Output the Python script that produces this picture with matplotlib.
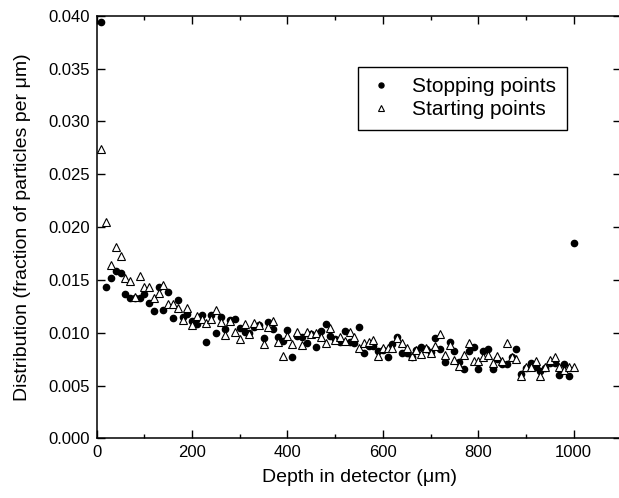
import matplotlib
matplotlib.use('Agg')
import matplotlib.pyplot as plt
from matplotlib.ticker import MultipleLocator, FormatStrFormatter

plt.rcParams['font.family'] = ['Liberation Sans', 'DejaVu Sans']

# depth bins (um)
depth = [10, 20, 30, 40, 50, 60, 70, 80, 90, 100,
         110, 120, 130, 140, 150, 160, 170, 180, 190, 200,
         210, 220, 230, 240, 250, 260, 270, 280, 290, 300,
         310, 320, 330, 340, 350, 360, 370, 380, 390, 400,
         410, 420, 430, 440, 450, 460, 470, 480, 490, 500,
         510, 520, 530, 540, 550, 560, 570, 580, 590, 600,
         610, 620, 630, 640, 650, 660, 670, 680, 690, 700,
         710, 720, 730, 740, 750, 760, 770, 780, 790, 800,
         810, 820, 830, 840, 850, 860, 870, 880, 890, 900,
         910, 920, 930, 940, 950, 960, 970, 980, 990, 1000]

# stopping points
stopping = [0.0394, 0.01437, 0.01517, 0.0158, 0.0157, 0.01368, 0.01333, 0.01333, 0.01327, 0.01365,
            0.01286, 0.0121, 0.01437, 0.01217, 0.01384, 0.01138, 0.01311, 0.01147, 0.01179, 0.01116,
            0.01084, 0.0117, 0.00917, 0.0117, 0.00996, 0.01153, 0.01037, 0.01122, 0.01131, 0.01049,
            0.01011, 0.01002, 0.01059, 0.0107, 0.00955, 0.01106, 0.01034, 0.0096, 0.00926, 0.01027,
            0.00769, 0.00971, 0.00958, 0.00901, 0.0099, 0.00869, 0.01021, 0.01084, 0.00971, 0.00939,
            0.00917, 0.01021, 0.00917, 0.00907, 0.01059, 0.00813, 0.00876, 0.00876, 0.00831, 0.00838,
            0.00769, 0.00895, 0.00958, 0.00813, 0.00813, 0.00775, 0.00838, 0.00869, 0.00845, 0.00822,
            0.00949, 0.0085, 0.00727, 0.00917, 0.00831, 0.00727, 0.00655, 0.00829, 0.00869, 0.00658,
            0.00831, 0.00845, 0.00658, 0.0075, 0.00706, 0.00706, 0.0077, 0.00845, 0.0061, 0.00665,
            0.00712, 0.0068, 0.00642, 0.00665, 0.00712, 0.00718, 0.00601, 0.00706, 0.00592, 0.0185]

# starting points
starting = [0.0274, 0.02044, 0.01643, 0.01816, 0.0173, 0.01517, 0.01491, 0.01343, 0.01539, 0.01437,
            0.01437, 0.01333, 0.0138, 0.01451, 0.01274, 0.01271, 0.01233, 0.01122, 0.01233, 0.01075,
            0.0116, 0.01129, 0.01097, 0.01134, 0.01217, 0.011, 0.0098, 0.01116, 0.01011, 0.0094,
            0.01084, 0.0099, 0.01091, 0.01075, 0.00898, 0.01059, 0.01116, 0.00917, 0.00781, 0.00971,
            0.00895, 0.01012, 0.00885, 0.01012, 0.0099, 0.01002, 0.00964, 0.00907, 0.01043, 0.00933,
            0.00958, 0.00923, 0.01012, 0.00964, 0.00854, 0.00901, 0.00917, 0.00933, 0.00781, 0.00854,
            0.00854, 0.00854, 0.00949, 0.00901, 0.00854, 0.00781, 0.00838, 0.008, 0.00854, 0.00807,
            0.00876, 0.00993, 0.00791, 0.00882, 0.00746, 0.00687, 0.00791, 0.00907, 0.00737, 0.00737,
            0.00775, 0.00791, 0.00712, 0.00784, 0.00734, 0.00901, 0.00775, 0.0075, 0.00592, 0.0068,
            0.0068, 0.00737, 0.00592, 0.00674, 0.00743, 0.00775, 0.0068, 0.00649, 0.0068, 0.00674]

fig = plt.figure(figsize=(6.19, 4.98), dpi=100)
# right edge of the frame falls just outside the picture (cropped figure)
ax = fig.add_axes([0.1562, 0.1195, 0.8477, 0.849])

ax.plot(depth, stopping, linestyle='none', marker='o', markersize=4.5,
        color='black', label='Stopping points')
ax.plot(depth, starting, linestyle='none', marker='^', markersize=5.5,
        markerfacecolor='white', markeredgecolor='black', markeredgewidth=0.8,
        label='Starting points')

ax.set_xlim(0, 1100)
ax.set_ylim(0, 0.040)
ax.xaxis.set_major_locator(MultipleLocator(200))
ax.xaxis.set_minor_locator(MultipleLocator(100))
ax.yaxis.set_major_locator(MultipleLocator(0.005))
ax.yaxis.set_major_formatter(FormatStrFormatter('%.3f'))

ax.tick_params(which='both', direction='in', top=True, right=True, labelsize=12)
ax.tick_params(which='major', length=5.8, width=1.0, pad=5)
ax.tick_params(which='minor', length=3, width=1.0)
for sp in ax.spines.values():
    sp.set_linewidth(1.1)

ax.set_xlabel('Depth in detector (\u03bcm)', fontsize=14, labelpad=6)
ax.set_ylabel('Distribution (fraction of particles per \u03bcm)', fontsize=14, labelpad=12)

leg = ax.legend(loc='upper left', bbox_to_anchor=(0.498, 0.879), borderaxespad=0,
                fontsize=15, fancybox=False, edgecolor='black', markerscale=0.8,
                handlelength=1.2, handletextpad=0.9, labelspacing=0.2, borderpad=0.5,
                framealpha=1)
leg.get_frame().set_linewidth(1.0)

plt.savefig('out.png', dpi=100)
